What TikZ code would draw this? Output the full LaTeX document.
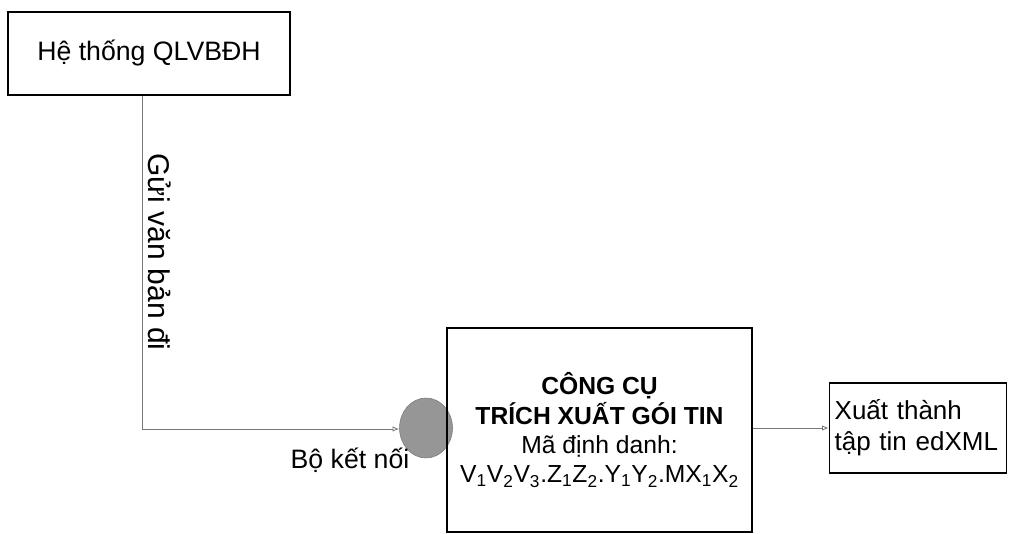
\documentclass[tikz,border=0pt]{standalone}
\usepackage{fontspec}
\setmainfont{Liberation Sans}
\usepackage{tikz}
\usetikzlibrary{arrows.meta,positioning,shapes.geometric}
\definecolor{lineGray}{RGB}{120,120,120}
\definecolor{joinGray}{RGB}{150,150,150}
\tikzset{
  flowbox/.style={
    draw=black,line width=0.9pt,inner sep=6pt,
    font=\fontsize{20}{24}\selectfont
  },
  toolbox/.style={flowbox,align=center,font=\fontsize{18.5}{22}\selectfont},
  outbox/.style={flowbox,align=left,text width=125pt,inner xsep=4pt,
    font=\fontsize{19.5}{23.5}\selectfont},
  joinnode/.style={ellipse,draw=joinGray!80!black,fill=joinGray,line width=0.4pt},
  flowline/.style={draw=lineGray,line width=0.6pt},
  flowarrow/.style={flowline,-{Latex[open,length=5pt,width=4pt]}},
  plainlabel/.style={font=\fontsize{20}{24}\selectfont}
}

\begin{document}
\begin{tikzpicture}[x=0.75pt,y=-0.75pt]
  \useasboundingbox (0,0) rectangle (1009,534);
  % source system
  \node[flowbox,minimum width=282*0.75pt,minimum height=83*0.75pt] (sys) at (149,53.5) {Hệ thống QLVBĐH};
  % connector and tool
  \node[joinnode,minimum width=53*0.75pt,minimum height=60*0.75pt] (conn) at (426,428) {};
  \node[toolbox,minimum width=305*0.75pt,minimum height=204*0.75pt] (tool) at (599.5,430)
    {\textbf{CÔNG CỤ}\\ \textbf{TRÍCH XUẤT GÓI TIN}\\ Mã định danh:\\
     V\textsubscript{1}V\textsubscript{2}V\textsubscript{3}.Z\textsubscript{1}Z\textsubscript{2}.Y\textsubscript{1}Y\textsubscript{2}.MX\textsubscript{1}X\textsubscript{2}};
  \node[outbox,minimum height=90*0.75pt] (out) at (918,428)
    {Xuất thành\\ tập tin edXML};
  \node[plainlabel] (connlbl) at (350,460) {Bộ kết nối};
  % flows
  \coordinate (bend) at (142,429);
  \draw[flowline] (sys.south -| bend) -- (bend);
  \draw[flowarrow] (bend) -- (conn.west |- bend);
  \node[plainlabel,rotate=-90,font=\fontsize{22.5}{26}\selectfont] (sendlbl) at (160,252) {Gửi văn bản đi};
  \draw[flowarrow] (tool.east |- out.west) -- (out.west);
\end{tikzpicture}
\end{document}
